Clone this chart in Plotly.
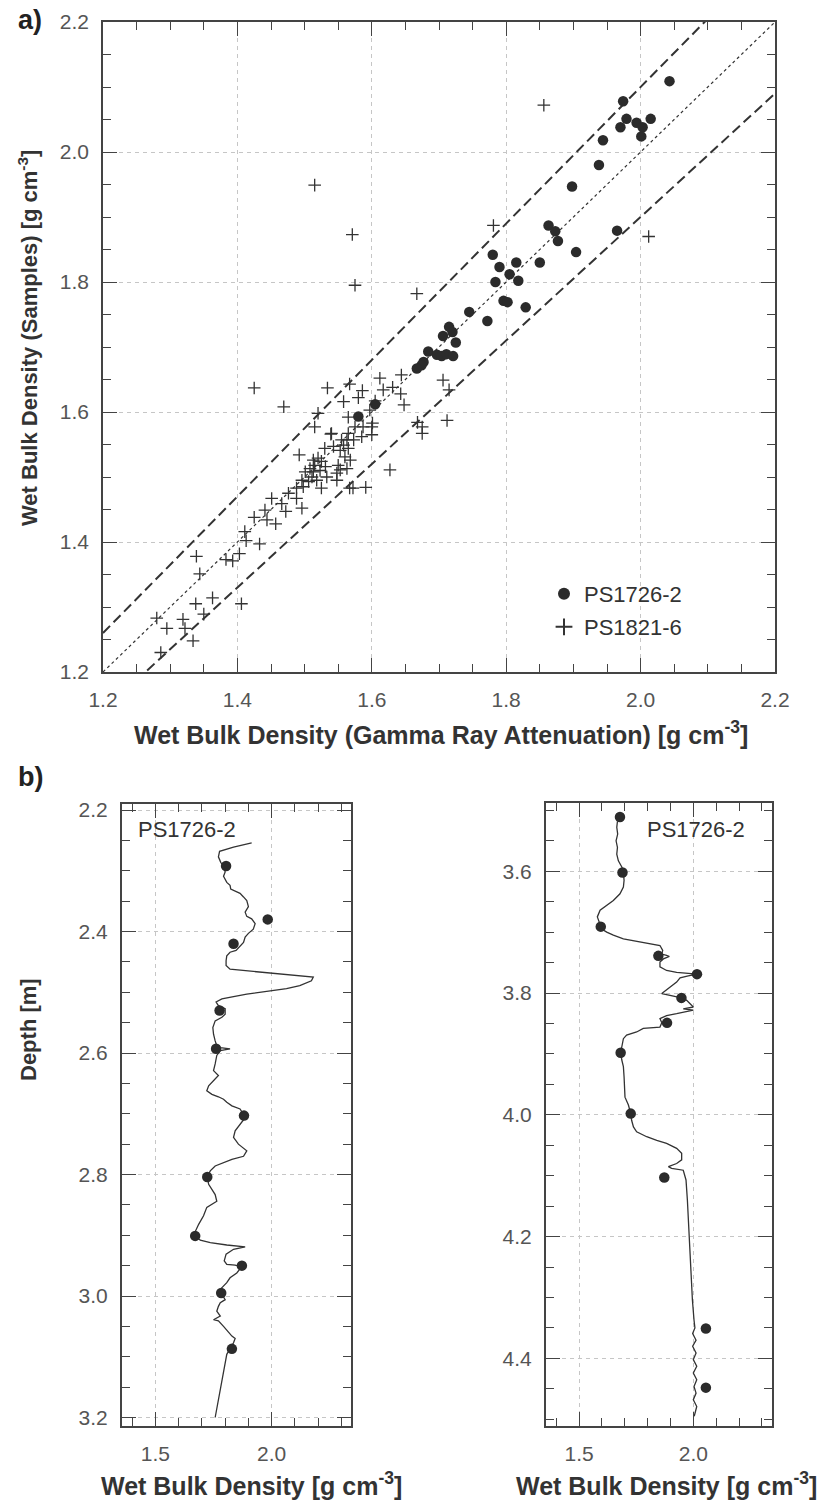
import plotly.graph_objects as go

# ---------------- Panel a data ----------------
# PS1726-2 : wet bulk density (gamma ray attenuation) vs samples
ps1726_gra = [2.043, 1.974, 1.979, 1.970, 1.994, 2.003, 2.015, 2.001, 1.944, 1.938, 1.898, 1.863, 1.873, 1.877,
              1.965, 1.904, 1.780, 1.790, 1.815, 1.805, 1.784, 1.818, 1.850, 1.796, 1.802, 1.829, 1.772, 1.745,
              1.715, 1.720, 1.706, 1.725, 1.684, 1.697, 1.704, 1.711, 1.721, 1.677, 1.674, 1.667, 1.605, 1.580]
ps1726_smp = [2.109, 2.078, 2.051, 2.038, 2.045, 2.038, 2.051, 2.024, 2.018, 1.980, 1.947, 1.887, 1.878, 1.863,
              1.879, 1.846, 1.842, 1.823, 1.830, 1.812, 1.800, 1.802, 1.830, 1.771, 1.769, 1.761, 1.740, 1.754,
              1.731, 1.723, 1.717, 1.707, 1.693, 1.688, 1.686, 1.689, 1.686, 1.677, 1.672, 1.667, 1.612, 1.593]

# PS1821-6
ps1821_gra = [1.425, 1.469, 1.520, 1.534, 1.567, 1.558, 1.580, 1.586, 1.612, 1.617, 1.631, 1.644, 1.643, 1.648,
              1.605, 1.597, 1.565, 1.601, 1.706, 1.715, 1.712, 1.668, 1.476, 1.451, 1.466, 1.472, 1.441, 1.425,
              1.444, 1.457, 1.411, 1.413, 1.433, 1.403, 1.393, 1.383, 1.339, 1.344, 1.280, 1.295, 1.319, 1.322,
              1.338, 1.350, 1.363, 1.334, 1.286, 1.406,
              1.515, 1.571, 1.575, 1.667, 1.856, 1.781, 2.012,
              1.492, 1.513, 1.520, 1.525, 1.515, 1.508, 1.501, 1.513, 1.523, 1.531, 1.533, 1.511, 1.518, 1.506,
              1.496, 1.488, 1.498, 1.488, 1.496, 1.525, 1.548, 1.553, 1.550, 1.563, 1.568, 1.560, 1.553, 1.543,
              1.558, 1.563, 1.555, 1.573, 1.585, 1.600, 1.565, 1.540, 1.530, 1.600, 1.587, 1.575, 1.627, 1.591,
              1.567, 1.675, 1.675, 1.515, 1.565, 1.572, 1.548, 1.539]
ps1821_smp = [1.637, 1.608, 1.598, 1.637, 1.643, 1.616, 1.622, 1.633, 1.652, 1.634, 1.638, 1.657, 1.628, 1.611,
              1.617, 1.603, 1.592, 1.583, 1.649, 1.634, 1.587, 1.584, 1.475, 1.467, 1.459, 1.447, 1.449, 1.438,
              1.434, 1.428, 1.416, 1.402, 1.397, 1.382, 1.371, 1.373, 1.378, 1.351, 1.283, 1.267, 1.281, 1.267,
              1.305, 1.289, 1.314, 1.248, 1.230, 1.305,
              1.949, 1.873, 1.795, 1.782, 2.072, 1.887, 1.870,
              1.534, 1.526, 1.529, 1.524, 1.518, 1.513, 1.508, 1.508, 1.510, 1.516, 1.500, 1.500, 1.495, 1.493,
              1.495, 1.483, 1.485, 1.467, 1.452, 1.483, 1.495, 1.511, 1.518, 1.513, 1.526, 1.531, 1.541, 1.547,
              1.549, 1.557, 1.557, 1.557, 1.562, 1.565, 1.567, 1.567, 1.544, 1.577, 1.577, 1.577, 1.511, 1.484,
              1.483, 1.577, 1.567, 1.577, 1.544, 1.483, 1.506, 1.566]

# reference lines: 1:1 and +/- 5 %
ref_range = [1.2, 2.2]
ratio_upper = 1.05
ratio_lower = 0.95

# ---------------- Panel b data ----------------
core1_density = [1.914, 1.836, 1.776, 1.771, 1.781, 1.796, 1.800, 1.793, 1.807, 1.821, 1.824, 1.843, 1.864, 1.879,
                 1.893, 1.900, 1.886, 1.893, 1.914, 1.929, 1.921, 1.900, 1.886, 1.879, 1.861, 1.847, 1.821, 1.807,
                 1.804, 1.804, 1.821, 1.879, 1.979, 2.064, 2.136, 2.179, 2.171, 2.121, 2.064, 1.979, 1.893, 1.836,
                 1.786, 1.761, 1.771, 1.800, 1.800, 1.786, 1.757, 1.747, 1.750, 1.757, 1.764, 1.779, 1.821, 1.779,
                 1.764, 1.757, 1.750, 1.771, 1.757, 1.729, 1.721, 1.743, 1.771, 1.793, 1.807, 1.829, 1.864, 1.879,
                 1.881, 1.864, 1.843, 1.836, 1.857, 1.893, 1.879, 1.829, 1.793, 1.757, 1.736, 1.723, 1.729, 1.757,
                 1.764, 1.743, 1.721, 1.707, 1.686, 1.669, 1.671, 1.693, 1.736, 1.807, 1.886, 1.836, 1.804, 1.796,
                 1.807, 1.843, 1.871, 1.850, 1.821, 1.807, 1.779, 1.783, 1.800, 1.779, 1.771, 1.764, 1.779, 1.750,
                 1.771, 1.793, 1.814, 1.829, 1.843, 1.836, 1.807, 1.757]
core1_depth = [2.254, 2.261, 2.268, 2.277, 2.286, 2.294, 2.302, 2.309, 2.319, 2.324, 2.330, 2.333, 2.337, 2.343,
               2.349, 2.359, 2.368, 2.375, 2.379, 2.387, 2.396, 2.403, 2.409, 2.418, 2.426, 2.431, 2.434, 2.440,
               2.448, 2.456, 2.462, 2.464, 2.467, 2.470, 2.473, 2.475, 2.481, 2.489, 2.494, 2.498, 2.503, 2.507,
               2.511, 2.516, 2.522, 2.527, 2.536, 2.541, 2.547, 2.558, 2.569, 2.580, 2.588, 2.591, 2.593, 2.596,
               2.604, 2.618, 2.629, 2.637, 2.643, 2.654, 2.662, 2.668, 2.672, 2.676, 2.681, 2.687, 2.692, 2.701,
               2.709, 2.717, 2.728, 2.739, 2.750, 2.761, 2.770, 2.775, 2.780, 2.786, 2.794, 2.804, 2.816, 2.833,
               2.844, 2.849, 2.854, 2.868, 2.882, 2.896, 2.901, 2.908, 2.912, 2.916, 2.919, 2.923, 2.931, 2.942,
               2.948, 2.949, 2.952, 2.962, 2.970, 2.978, 2.989, 2.995, 3.006, 3.011, 3.017, 3.025, 3.033, 3.039,
               3.041, 3.050, 3.060, 3.066, 3.070, 3.077, 3.096, 3.200]
core1_sample_density = [1.804, 1.983, 1.836, 1.776, 1.761, 1.881, 1.723, 1.671, 1.872, 1.783, 1.829]
core1_sample_depth = [2.292, 2.380, 2.420, 2.530, 2.593, 2.703, 2.804, 2.901, 2.950, 2.995, 3.087]

core2_density = [1.668, 1.665, 1.669, 1.662, 1.668, 1.665, 1.672, 1.687, 1.694, 1.697, 1.694, 1.679, 1.650, 1.621,
                 1.592, 1.580, 1.589, 1.599, 1.621, 1.650, 1.694, 1.752, 1.810, 1.854, 1.866, 1.862, 1.883, 1.895,
                 1.869, 1.854, 1.854, 1.883, 1.927, 1.985, 2.016, 1.978, 1.942, 1.927, 1.898, 1.876, 1.862, 1.898,
                 1.948, 1.971, 2.000, 1.956, 2.000, 1.927, 1.883, 1.854, 1.862, 1.854, 1.781, 1.752, 1.708, 1.694,
                 1.687, 1.682, 1.687, 1.694, 1.697, 1.698, 1.701, 1.716, 1.726, 1.730, 1.738, 1.752, 1.796, 1.840,
                 1.883, 1.927, 1.949, 1.949, 1.927, 1.891, 1.905, 1.956, 1.968, 1.974, 1.981, 1.988, 1.996, 2.003,
                 2.007, 1.997, 2.012, 1.997, 2.012, 2.000, 2.015, 2.000, 2.015, 2.003, 2.012, 2.000, 2.015, 2.004]
core2_depth = [3.518, 3.528, 3.539, 3.550, 3.561, 3.572, 3.583, 3.593, 3.602, 3.615, 3.626, 3.637, 3.648, 3.656,
               3.664, 3.675, 3.686, 3.695, 3.700, 3.705, 3.711, 3.715, 3.718, 3.722, 3.730, 3.736, 3.738, 3.740,
               3.744, 3.749, 3.757, 3.763, 3.766, 3.768, 3.769, 3.772, 3.775, 3.782, 3.790, 3.797, 3.801, 3.804,
               3.808, 3.812, 3.823, 3.826, 3.828, 3.834, 3.837, 3.842, 3.849, 3.856, 3.858, 3.864, 3.869, 3.875,
               3.889, 3.898, 3.910, 3.921, 3.938, 3.954, 3.971, 3.984, 3.998, 4.009, 4.020, 4.028, 4.036, 4.042,
               4.047, 4.055, 4.063, 4.074, 4.080, 4.085, 4.088, 4.091, 4.107, 4.140, 4.195, 4.249, 4.304, 4.337,
               4.350, 4.359, 4.370, 4.380, 4.391, 4.402, 4.413, 4.424, 4.435, 4.446, 4.457, 4.468, 4.479, 4.495]
core2_sample_density = [1.679, 1.690, 1.595, 1.847, 2.016, 1.948, 1.885, 1.682, 1.726, 1.873, 2.055, 2.055]
core2_sample_depth = [3.511, 3.602, 3.691, 3.739, 3.769, 3.808, 3.849, 3.898, 3.998, 4.103, 4.351, 4.448]

# tick labels
a_ticks = [1.2, 1.4, 1.6, 1.8, 2.0, 2.2]
b_xticks = [1.5, 2.0]
b1_yticks = [2.2, 2.4, 2.6, 2.8, 3.0, 3.2]
b2_yticks = [3.6, 3.8, 4.0, 4.2, 4.4]

# ---------------- styling ----------------
W, H = 829, 1504
FONT = "Liberation Sans, Arial, sans-serif"
DARK = "#333333"
AXC = "#444444"


def px_x(p):
    return p / W


def px_y(p):
    return 1 - p / H


def axis(tickvals, rng, domain, anchor, minor_dtick, minor_tick0, fmt=".1f", **kw):
    d = dict(
        domain=domain, anchor=anchor, range=rng, automargin=False,
        tickmode="array", tickvals=tickvals, tickformat=fmt,
        showline=True, linecolor=AXC, linewidth=1.6, mirror="allticks",
        ticks="inside", ticklen=14, tickwidth=1.4, tickcolor=AXC,
        showgrid=True, gridcolor="#c6c6c6", gridwidth=1, griddash="4px,4px",
        zeroline=False, ticklabelstandoff=8,
        tickfont=dict(family=FONT, size=21, color="#555555"),
        minor=dict(tickmode="linear", tick0=minor_tick0, dtick=minor_dtick, ticks="inside",
                   ticklen=8, tickwidth=1.4, tickcolor=AXC, showgrid=False),
    )
    d.update(kw)
    return d


fig = go.Figure()

# ---- panel a ----
fig.add_trace(go.Scatter(x=ref_range, y=ref_range, mode="lines",
                         line=dict(color=DARK, width=1.2, dash="dot"), showlegend=False,
                         xaxis="x", yaxis="y", hoverinfo="skip"))
fig.add_trace(go.Scatter(x=ref_range, y=[v * ratio_upper for v in ref_range], mode="lines",
                         line=dict(color=DARK, width=2, dash="10px,5px"), showlegend=False,
                         xaxis="x", yaxis="y", hoverinfo="skip"))
fig.add_trace(go.Scatter(x=ref_range, y=[v * ratio_lower for v in ref_range], mode="lines",
                         line=dict(color=DARK, width=2, dash="10px,5px"), showlegend=False,
                         xaxis="x", yaxis="y", hoverinfo="skip"))
fig.add_trace(go.Scatter(x=ps1821_gra, y=ps1821_smp, mode="markers", name="PS1821-6",
                         marker=dict(symbol="cross-thin", size=9, line=dict(color=DARK, width=1.3)),
                         xaxis="x", yaxis="y", legend="legend2"))
fig.add_trace(go.Scatter(x=ps1726_gra, y=ps1726_smp, mode="markers", name="PS1726-2",
                         marker=dict(symbol="circle", size=10.5, color="#2b2b2b"),
                         xaxis="x", yaxis="y", legend="legend"))

# ---- panel b left ----
fig.add_trace(go.Scatter(x=core1_density, y=core1_depth, mode="lines",
                         line=dict(color=DARK, width=1.3), showlegend=False, xaxis="x2", yaxis="y2"))
fig.add_trace(go.Scatter(x=core1_sample_density, y=core1_sample_depth, mode="markers",
                         marker=dict(symbol="circle", size=10.5, color="#2b2b2b"), showlegend=False,
                         xaxis="x2", yaxis="y2"))
# ---- panel b right ----
fig.add_trace(go.Scatter(x=core2_density, y=core2_depth, mode="lines",
                         line=dict(color=DARK, width=1.3), showlegend=False, xaxis="x3", yaxis="y3"))
fig.add_trace(go.Scatter(x=core2_sample_density, y=core2_sample_depth, mode="markers",
                         marker=dict(symbol="circle", size=10.5, color="#2b2b2b"), showlegend=False,
                         xaxis="x3", yaxis="y3"))

ytitle_font = dict(family=FONT, size=22, color=DARK, weight="bold")
xtitle_font = dict(family=FONT, size=25, color=DARK, weight="bold")
label_font = dict(family=FONT, size=22, color=DARK)

fig.update_layout(
    width=W, height=H, margin=dict(l=0, r=0, t=0, b=0, autoexpand=False),
    paper_bgcolor="white", plot_bgcolor="white",
    font=dict(family=FONT, color=DARK),
    xaxis=axis(a_ticks, [1.2, 2.2], [px_x(103), px_x(775)], "y", 0.05, 1.2),
    yaxis=axis(a_ticks, [1.2, 2.2], [px_y(672), px_y(22)], "x", 0.05, 1.2),
    xaxis2=axis(b_xticks, [1.355, 2.34], [px_x(121.7), px_x(350.7)], "y2", 0.1, 1.4),
    yaxis2=axis(b1_yticks, [3.214, 2.19], [px_y(1426), px_y(804)], "x2", 0.05, 2.2),
    xaxis3=axis(b_xticks, [1.354, 2.343], [px_x(545.7), px_x(771.7)], "y3", 0.1, 1.4),
    yaxis3=axis(b2_yticks, [4.511, 3.488], [px_y(1426), px_y(803)], "x3", 0.05, 3.5),
    legend=dict(x=px_x(544), y=px_y(594), xanchor="left", yanchor="middle",
                bgcolor="rgba(0,0,0,0)", itemsizing="constant", font=label_font),
    legend2=dict(x=px_x(544), y=px_y(627), xanchor="left", yanchor="middle",
                 bgcolor="rgba(0,0,0,0)", itemsizing="constant", font=label_font),
    annotations=[
        dict(text="a)", x=px_x(16), y=px_y(20), xref="paper", yref="paper", xanchor="left", yanchor="middle",
             showarrow=False, font=dict(family=FONT, size=27, color="#222", weight="bold")),
        dict(text="b)", x=px_x(16), y=px_y(777), xref="paper", yref="paper", xanchor="left", yanchor="middle",
             showarrow=False, font=dict(family=FONT, size=27, color="#222", weight="bold")),
        dict(text="Wet Bulk Density (Samples) [g cm<sup>-3</sup>]", textangle=-90,
             x=px_x(28), y=px_y(338), xref="paper", yref="paper", xanchor="center", yanchor="middle",
             showarrow=False, font=ytitle_font),
        dict(text="Wet Bulk Density (Gamma Ray Attenuation) [g cm<sup>-3</sup>]",
             x=px_x(441), y=px_y(733), xref="paper", yref="paper", xanchor="center", yanchor="middle",
             showarrow=False, font=xtitle_font),
        dict(text="Depth [m]", textangle=-90,
             x=px_x(28), y=px_y(1030), xref="paper", yref="paper", xanchor="center", yanchor="middle",
             showarrow=False, font=ytitle_font),
        dict(text="Wet Bulk Density [g cm<sup>-3</sup>]",
             x=px_x(252), y=px_y(1484), xref="paper", yref="paper", xanchor="center", yanchor="middle",
             showarrow=False, font=xtitle_font),
        dict(text="Wet Bulk Density [g cm<sup>-3</sup>]",
             x=px_x(666), y=px_y(1484), xref="paper", yref="paper", xanchor="center", yanchor="middle",
             showarrow=False, font=xtitle_font),
        dict(text="PS1726-2", x=px_x(136), y=px_y(829), xref="paper", yref="paper",
             xanchor="left", yanchor="middle", showarrow=False, font=label_font),
        dict(text="PS1726-2", x=px_x(645), y=px_y(829), xref="paper", yref="paper",
             xanchor="left", yanchor="middle", showarrow=False, font=label_font),
    ],
)

fig.write_html("out.html", config={"displayModeBar": False},
               post_script="document.body.style.margin='0px';")
